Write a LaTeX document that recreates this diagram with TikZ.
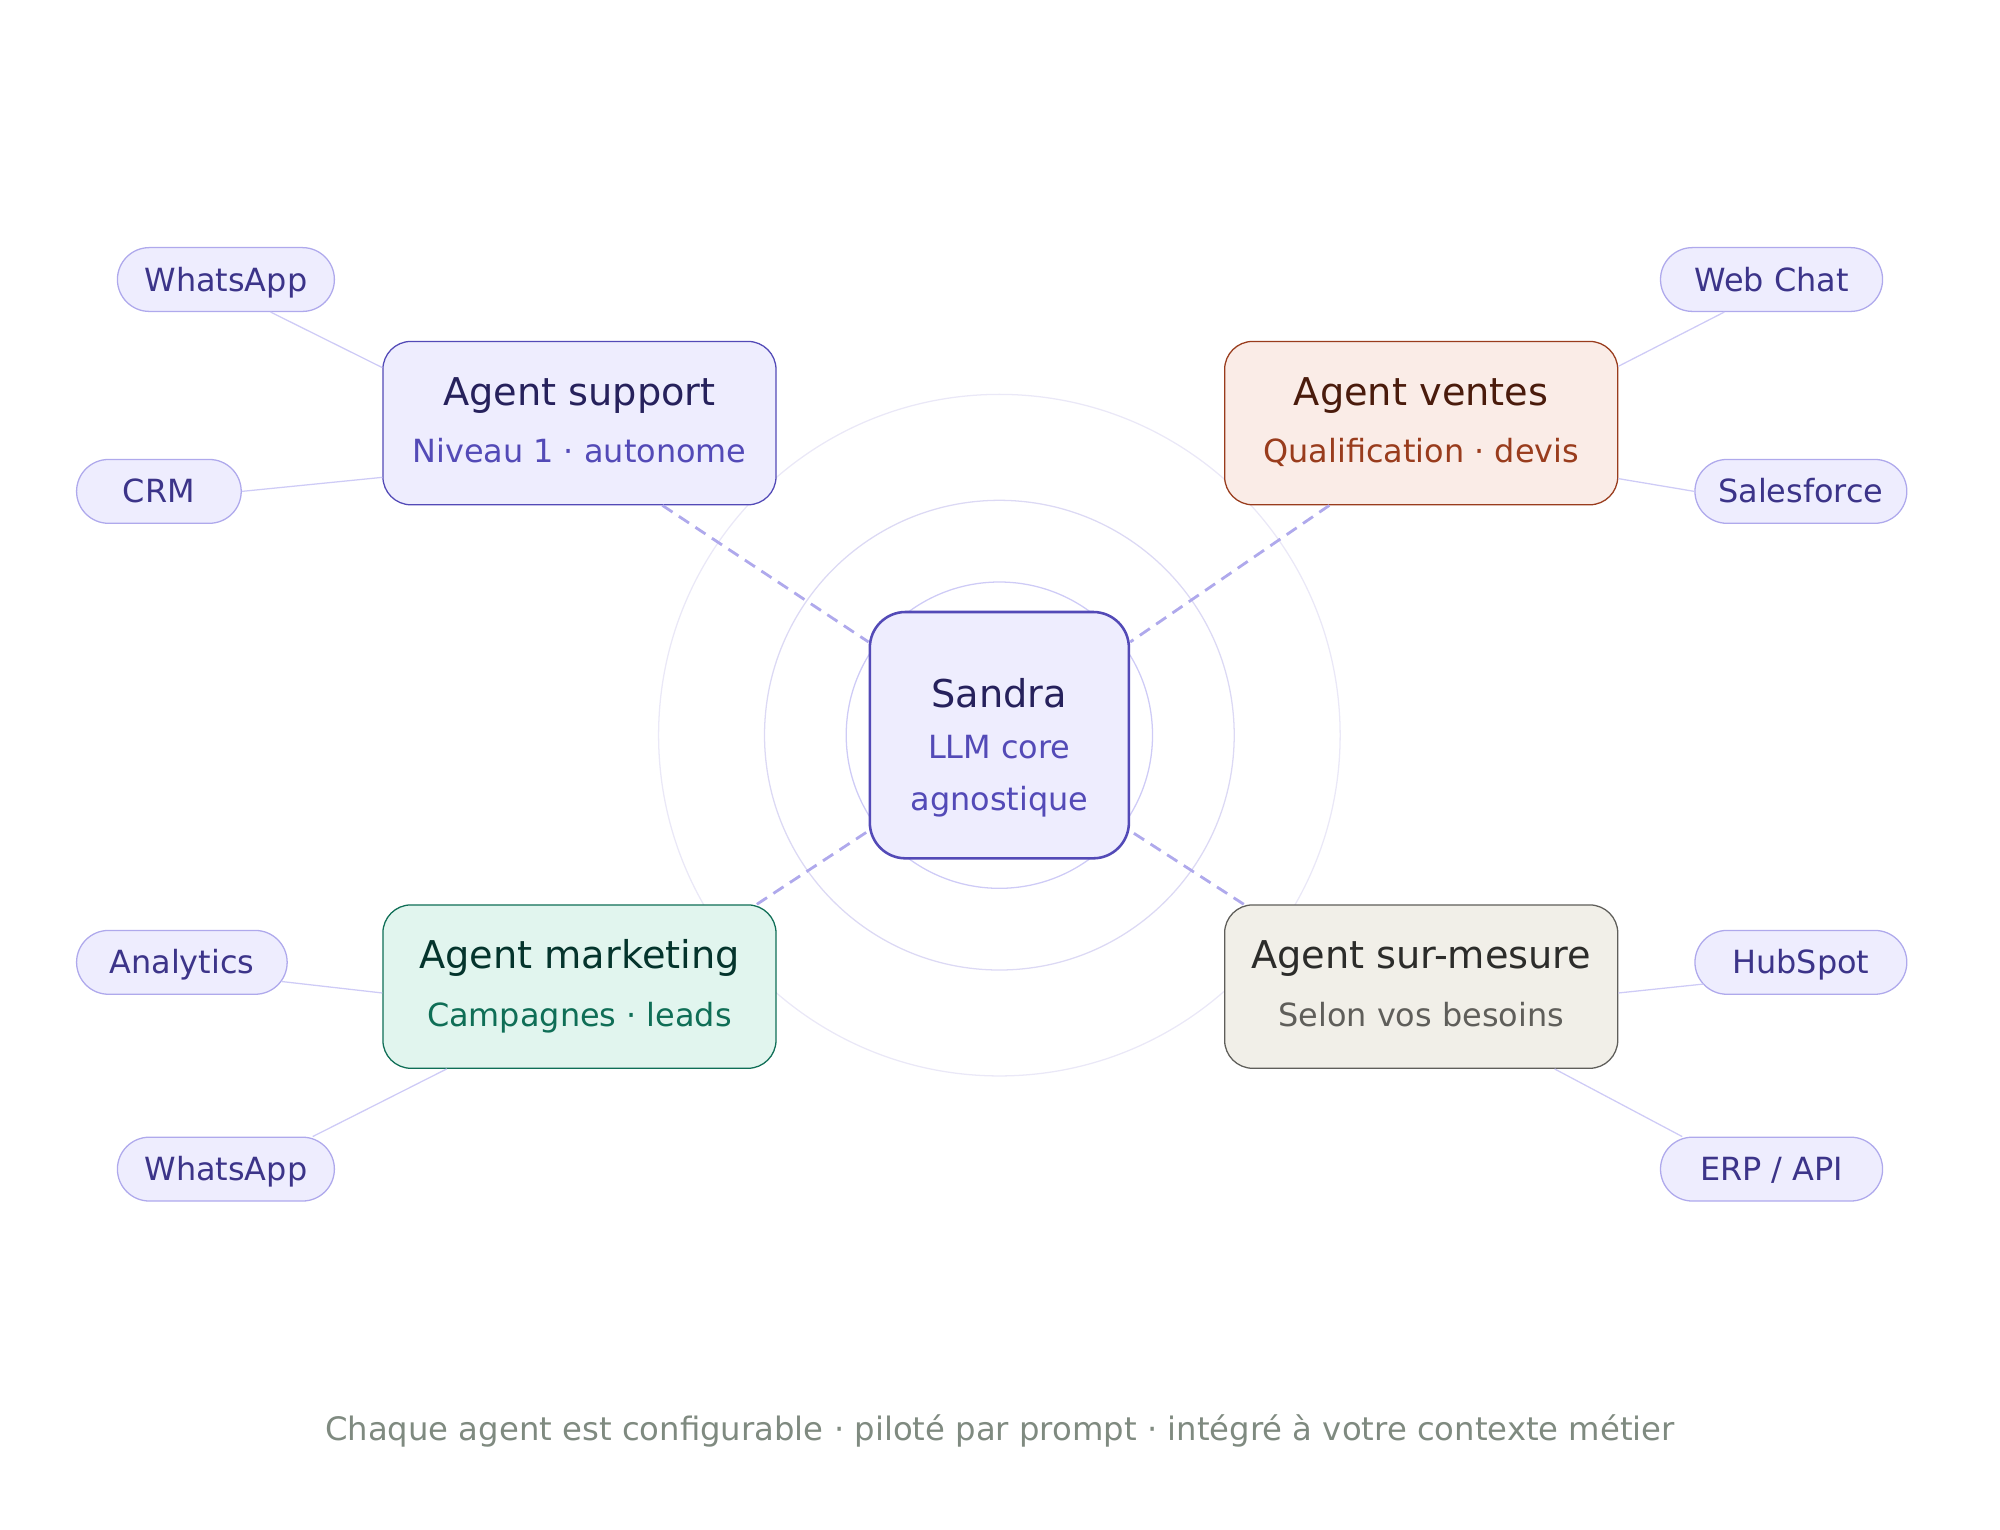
\documentclass[tikz,border=0pt]{standalone}
\usepackage{fontspec}
\setmainfont{DejaVu Sans}
\usetikzlibrary{calc}
\definecolor{purp}{HTML}{534AB7}
\definecolor{purpfill}{HTML}{EEEDFE}
\definecolor{purpdark}{HTML}{26215C}
\definecolor{venfill}{HTML}{FAECE7}
\definecolor{venline}{HTML}{993C1D}
\definecolor{vendark}{HTML}{4A1B0C}
\definecolor{mktfill}{HTML}{E1F5EE}
\definecolor{mktline}{HTML}{0F6E56}
\definecolor{mktdark}{HTML}{04342C}
\definecolor{smfill}{HTML}{F1EFE8}
\definecolor{smline}{HTML}{5F5E5A}
\definecolor{smdark}{HTML}{2C2C2A}
\definecolor{pillline}{HTML}{AFA9EC}
\definecolor{pilltext}{HTML}{3C3489}
\definecolor{linklight}{HTML}{CECBF6}
\definecolor{dashcol}{HTML}{AFA9EC}
\definecolor{ring1}{HTML}{CECBF6}
\definecolor{ring2}{HTML}{DCD9F4}
\definecolor{ring3}{HTML}{EAE8F7}
\definecolor{foot}{HTML}{7F8A80}
\begin{document}
\begin{tikzpicture}[x=1pt,y=-1pt,
  agentbox/.style={rounded corners=22pt, minimum width=308pt, minimum height=128pt, line width=1pt, inner sep=0pt},
  corebox/.style={rounded corners=28pt, minimum width=203pt, minimum height=193pt, line width=2pt, inner sep=0pt, draw=purp, fill=purpfill},
  ttl/.style={anchor=base, inner sep=0pt, font=\fontsize{30}{36}\selectfont},
  subt/.style={anchor=base, inner sep=0pt, font=\fontsize{25}{30}\selectfont},
  pill/.style={rounded corners=25pt, minimum height=50pt, fill=purpfill, draw=pillline, line width=1pt, text=pilltext, inner sep=0pt, text height=18.2pt, text depth=0pt, font=\fontsize{25}{30}\selectfont},
  ring/.style={line width=1pt},
  dashlink/.style={draw=dashcol, line width=2.2pt, dash pattern=on 9.5pt off 6pt},
  pilllink/.style={draw=linklight, line width=1pt}
]
\useasboundingbox (0,0) rectangle (1567,1198);
\coordinate (c) at (783,576);
\draw[ring, ring3] (c) circle[radius=267pt];
\draw[ring, ring2] (c) circle[radius=184pt];
\draw[ring, ring1] (c) circle[radius=120pt];

% core
\node[corebox] (san) at (c) {};
\node[ttl, text=purpdark] (sant) at ($(san.center)+(0,-22)$) {Sandra};
\node[subt, text=purp] (sans1) at ($(san.center)+(0,18)$) {LLM core};
\node[subt, text=purp] (sans2) at ($(san.center)+(0,59)$) {agnostique};

% agents
\node[agentbox, draw=purp, fill=purpfill] (sup) at (454,331.5) {};
\node[ttl, text=purpdark] (supt) at ($(sup.center)+(0,-14)$) {Agent support};
\node[subt, text=purp] (sups) at ($(sup.center)+(0,31)$) {Niveau 1 · autonome};

\node[agentbox, draw=venline, fill=venfill] (ven) at (1113.5,331.5) {};
\node[ttl, text=vendark] (vent) at ($(ven.center)+(0,-14)$) {Agent ventes};
\node[subt, text=venline] (vens) at ($(ven.center)+(0,31)$) {Qualification · devis};

\node[agentbox, draw=mktline, fill=mktfill] (mkt) at (454,773) {};
\node[ttl, text=mktdark] (mktt) at ($(mkt.center)+(0,-14)$) {Agent marketing};
\node[subt, text=mktline] (mkts) at ($(mkt.center)+(0,31)$) {Campagnes · leads};

\node[agentbox, draw=smline, fill=smfill] (sm) at (1113.5,773) {};
\node[ttl, text=smdark] (smt) at ($(sm.center)+(0,-14)$) {Agent sur-mesure};
\node[subt, text=smline] (sms) at ($(sm.center)+(0,31)$) {Selon vos besoins};

% pills
\node[pill, minimum width=170pt] (wa1) at (177,219) {WhatsApp};
\node[pill, minimum width=129pt] (crm) at (124.5,385) {CRM};
\node[pill, minimum width=174pt] (wc) at (1388,219) {Web Chat};
\node[pill, minimum width=166pt] (sf) at (1411,385) {Salesforce};
\node[pill, minimum width=165pt] (an) at (142.5,754) {Analytics};
\node[pill, minimum width=170pt] (wa2) at (177,916) {WhatsApp};
\node[pill, minimum width=166pt] (hs) at (1411,754) {HubSpot};
\node[pill, minimum width=174pt] (erp) at (1388,916) {ERP / API};

% dashed links
\draw[dashlink] ($(sup.south)+(65,0)$) -- ($(san.west)+(0,-73)$);
\draw[dashlink] ($(ven.south)+(-72,0)$) -- ($(san.east)+(0,-73)$);
\draw[dashlink] ($(mkt.north)+(139,0)$) -- ($(san.west)+(0,75)$);
\draw[dashlink] ($(sm.north)+(-139,0)$) -- ($(san.east)+(0,75)$);

% pill links
\draw[pilllink] ($(wa1.south)+(35,0)$) -- ($(sup.west)+(0,-43.5)$);
\draw[pilllink] (crm.east) -- ($(sup.west)+(0,42.5)$);
\draw[pilllink] ($(wc.south)+(-37,0)$) -- ($(ven.east)+(0,-44.5)$);
\draw[pilllink] (sf.west) -- ($(ven.east)+(0,43.5)$);
\draw[pilllink] ($(an.center)+(78,15)$) -- ($(mkt.west)+(0,5)$);
\draw[pilllink] ($(wa2.north)+(68,0)$) -- ($(mkt.south)+(-104,0)$);
\draw[pilllink] ($(hs.center)+(-76.3,17)$) -- ($(sm.east)+(0,5)$);
\draw[pilllink] ($(erp.north)+(-70,0)$) -- ($(sm.south)+(104.5,0)$);

% footer
\node[anchor=base, inner sep=0pt, font=\fontsize{25.3}{30}\selectfont, text=foot] (footer) at (783.5,1129) {Chaque agent est configurable · piloté par prompt · intégré à votre contexte métier};
\end{tikzpicture}
\end{document}
